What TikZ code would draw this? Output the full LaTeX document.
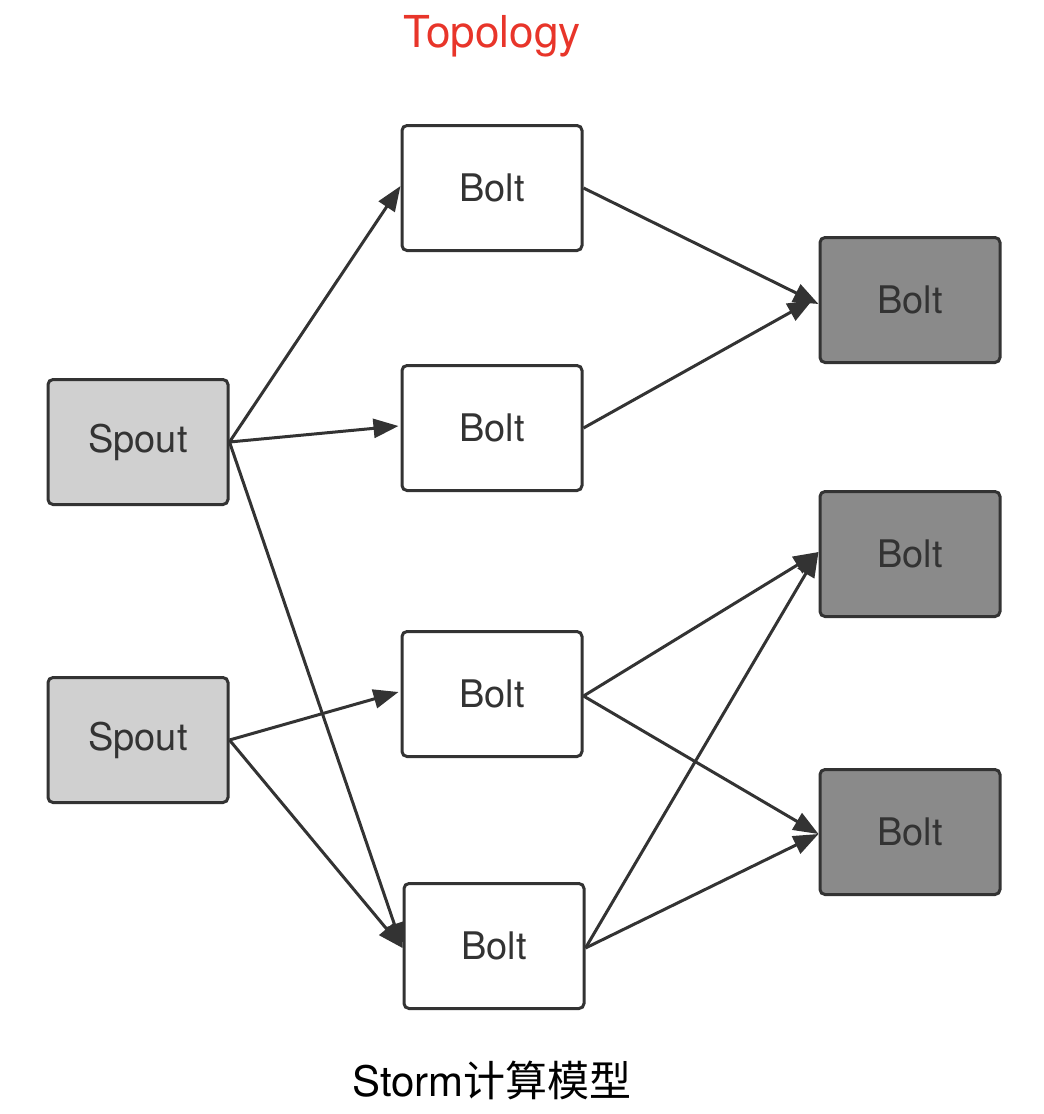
\documentclass[tikz,border=0pt]{standalone}
\usepackage{fontspec}
\setmainfont{TeX Gyre Heros}
\newfontfamily\cjkfont{Noto Sans CJK SC}
\usetikzlibrary{arrows.meta}
\definecolor{strokec}{HTML}{333333}
\definecolor{spoutc}{HTML}{D0D0D0}
\definecolor{darkc}{HTML}{8A8A8A}
\definecolor{titlec}{HTML}{E8352A}
\begin{document}
\begin{tikzpicture}[x=1pt,y=-1pt,
  boxbase/.style={draw=strokec,line width=3pt,rounded corners=5pt,minimum width=180pt,minimum height=125pt,inner sep=0pt,text=strokec,font=\fontsize{38}{42}\selectfont},
  spoutbox/.style={boxbase,fill=spoutc},
  boltbox/.style={boxbase,fill=white},
  darkbox/.style={boxbase,fill=darkc},
  conn/.style={draw=strokec,line width=3pt,-{Triangle[length=25pt,width=19pt]}}
]
\useasboundingbox (0,0) rectangle (1044,1114);
\node[spoutbox] (s1) at (138,442) {\raisebox{-3pt}{Spout}};
\node[spoutbox] (s2) at (138,740) {\raisebox{-3pt}{Spout}};
\node[boltbox] (ba) at (492,188) {Bolt};
\node[boltbox] (bb) at (492,428) {Bolt};
\node[boltbox] (bc) at (492,694) {Bolt};
\node[boltbox] (bd) at (494,946) {Bolt};
\node[darkbox] (de) at (910,300) {Bolt};
\node[darkbox] (df) at (910,554) {Bolt};
\node[darkbox] (dg) at (910,832) {Bolt};
\node[text=titlec,font=\fontsize{44}{48}\selectfont] (title) at (492,36) {Topology};
\node[text=black,font=\fontsize{42}{46}\selectfont] (caption) at (492,1080) {Storm{\cjkfont 计算模型}};
\draw[conn] (s1.east) -- ([yshift=2pt]ba.west);
\draw[conn] (s1.east) -- ([xshift=-2pt,yshift=2pt]bb.west);
\draw[conn] (s1.east) -- ([yshift=-2pt]bd.west);
\draw[conn] (s2.east) -- ([xshift=-2pt,yshift=2pt]bc.west);
\draw[conn] (s2.east) -- ([yshift=-2pt]bd.west);
\draw[conn] (ba.east) -- ([yshift=-4pt]de.west);
\draw[conn] (bb.east) -- ([xshift=-6pt]de.west);
\draw[conn] ([yshift=-2pt]bc.east) -- ([yshift=2pt]df.west);
\draw[conn] ([yshift=-2pt]bc.east) -- ([yshift=-2pt]dg.west);
\draw[conn] ([yshift=-2pt]bd.east) -- ([yshift=2pt]df.west);
\draw[conn] ([yshift=-2pt]bd.east) -- ([yshift=-2pt]dg.west);
\end{tikzpicture}
\end{document}
